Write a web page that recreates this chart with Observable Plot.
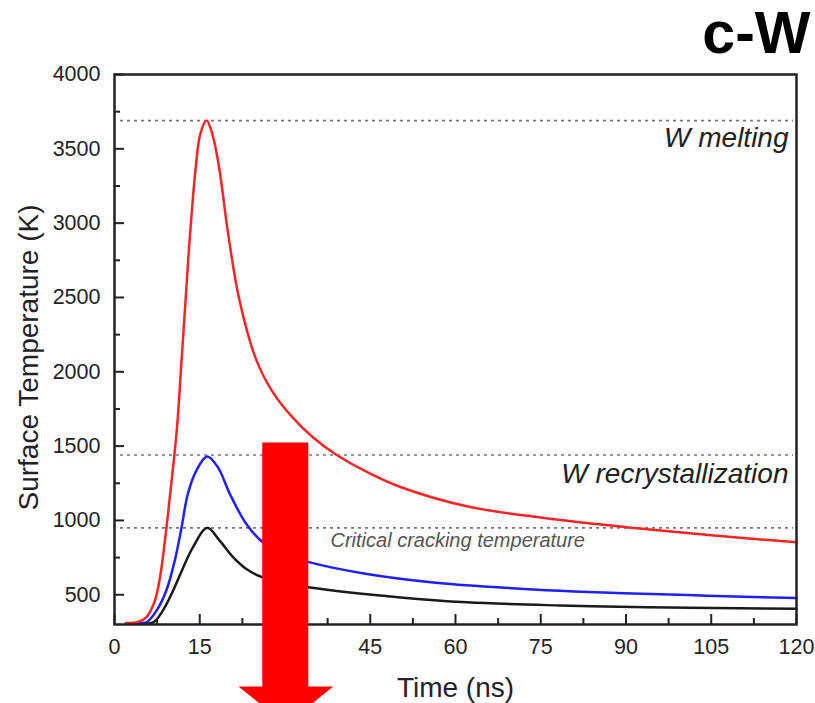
<!DOCTYPE html>
<html><head><meta charset="utf-8">
<script src="https://cdn.jsdelivr.net/npm/d3@7"></script>
<script src="https://cdn.jsdelivr.net/npm/@observablehq/plot@0.6"></script>
<style>
html,body{margin:0;padding:0;background:#fff;}
#chart{width:815px;height:703px;overflow:hidden;}
</style></head><body><div id="chart"></div>
<script>
// Time (ns) and surface temperature (K)
const redTime  = [2, 4, 5.6, 7.1, 8.0, 8.8, 9.8, 11.0, 11.8, 12.5, 13.3, 14.3, 15.1, 16.2, 17.2, 18.4, 20.0, 22.0, 25.0, 27.9, 31.4, 34.9, 39.1, 45, 50.3, 62.0, 75, 90, 105, 120];
const redTemp  = [310, 315, 348, 460, 617, 841, 1178, 1626, 2075, 2479, 2928, 3376, 3601, 3690, 3601, 3376, 2928, 2479, 2075, 1860, 1690, 1560, 1440, 1315, 1225, 1095, 1020, 955, 900, 853];
const blueTime = [4, 5.6, 7.4, 9.1, 10.6, 11.8, 12.9, 14.4, 16.3, 18.2, 20.3, 23.2, 26.1, 30, 34.4, 44.4, 56.1, 67.9, 78.4, 89.6, 104.3, 120];
const blueTemp = [310, 314, 393, 527, 729, 953, 1178, 1335, 1430, 1357, 1178, 976, 853, 775, 718, 640, 583, 549, 527, 511, 494, 478];
const blackTime = [5, 6.8, 8.5, 10.3, 12.1, 13.8, 16.3, 18.5, 20.9, 23.2, 26.1, 30, 34.4, 50.3, 62.0, 78.4, 93.7, 120];
const blackTemp = [310, 314, 393, 527, 684, 819, 950, 864, 751, 673, 617, 580, 549, 482, 449, 428, 416, 406];

// reference temperatures
const refTemps  = [3690, 1440, 950];
const refLabels = ["W melting", "W recrystallization", "Critical cracking temperature"];

// ticks
const xTicks = [0, 15, 30, 45, 60, 75, 90, 105, 120];
const xMinor = [7.5, 22.5, 37.5, 52.5, 67.5, 82.5, 97.5, 112.5];
const yTicks = [500, 1000, 1500, 2000, 2500, 3000, 3500, 4000];
const yMinor = [750, 1250, 1750, 2250, 2750, 3250, 3750];

// annotation arrow outline (data units)
const arrowX = [26.0, 34.1, 34.1, 38.5, 30.2, 21.8, 26.0];
const arrowY = [1525, 1525, -117, -117, -373, -117, -117];

const toRows = (ts, vs) => ts.map((t, i) => ({t, v: vs[i]}));
const red = toRows(redTime, redTemp);
const blue = toRows(blueTime, blueTemp);
const black = toRows(blackTime, blackTemp);
const arrow = arrowX.map((x, i) => ({x, y: arrowY[i]}));

const W = 815, H = 703, mL = 114, mR = 19, mT = 74, mB = 79;
const fw = W - mL - mR, fh = H - mT - mB;
const ink = "#222";

const chart = Plot.plot({
  width: W, height: H,
  marginLeft: mL, marginRight: mR, marginTop: mT, marginBottom: mB,
  style: {fontFamily: "'Liberation Sans', Arial, sans-serif", background: "#fff", color: ink},
  x: {domain: [0, 120]},
  y: {domain: [300, 4000]},
  marks: [
    Plot.ruleY(refTemps, {y: d => d, stroke: "#777", strokeWidth: 1.6, strokeDasharray: "3,4", insetLeft: 6, insetRight: 3}),
    Plot.line(black, {x: "t", y: "v", stroke: "#1a1a1a", strokeWidth: 2.5, curve: "catmull-rom"}),
    Plot.line(blue, {x: "t", y: "v", stroke: "#1f1fff", strokeWidth: 2.5, curve: "catmull-rom"}),
    Plot.line(red, {x: "t", y: "v", stroke: "#ff2424", strokeWidth: 2.5, curve: "catmull-rom"}),
    Plot.tickY(yTicks, {y: d => d, insetRight: fw - 10, stroke: ink, strokeWidth: 2}),
    Plot.tickY(yMinor, {y: d => d, insetRight: fw - 6, stroke: ink, strokeWidth: 2}),
    Plot.tickX(xTicks, {x: d => d, insetTop: fh - 10, stroke: ink, strokeWidth: 2}),
    Plot.tickX(xMinor, {x: d => d, insetTop: fh - 6, stroke: ink, strokeWidth: 2}),
    Plot.axisX({ticks: xTicks, tickSize: 0, tickPadding: 14, fontSize: 21.5, fill: ink, label: null, tickFormat: d => String(d)}),
    Plot.axisY({ticks: yTicks, tickSize: 0, tickPadding: 14, fontSize: 21.5, fill: ink, label: null, tickFormat: d => String(d)}),
    Plot.frame({stroke: ink, strokeWidth: 2.5}),
    Plot.text([refLabels[0]], {y: refTemps[0], frameAnchor: "right", text: d => d, dx: -8, dy: 7, textAnchor: "end", lineAnchor: "top", fontSize: 28, fontStyle: "italic", fill: ink}),
    Plot.text([refLabels[1]], {y: refTemps[1], frameAnchor: "right", text: d => d, dx: -8, dy: 8, textAnchor: "end", lineAnchor: "top", fontSize: 28, fontStyle: "italic", fill: ink}),
    Plot.text([refLabels[2]], {x: 38, y: refTemps[2], text: d => d, dy: 4.5, textAnchor: "start", lineAnchor: "top", fontSize: 20, fontStyle: "italic", fill: "#555"}),
    Plot.text(["Time (ns)"], {frameAnchor: "bottom", text: d => d, dy: 53, textAnchor: "middle", lineAnchor: "top", fontSize: 28, fill: ink}),
    Plot.text(["Surface Temperature (K)"], {frameAnchor: "left", text: d => d, rotate: -90, dx: -85, dy: 8, textAnchor: "middle", lineAnchor: "middle", fontSize: 28, fill: ink}),
    Plot.text(["c-W"], {frameAnchor: "top-right", text: d => d, dx: 14, dy: -22, textAnchor: "end", lineAnchor: "bottom", fontSize: 59, fontWeight: "bold", fill: "#000"}),
    Plot.line(arrow, {x: "x", y: "y", fill: "#ff0000", stroke: "none"})
  ]
});
document.getElementById("chart").appendChild(chart);
</script></body></html>
